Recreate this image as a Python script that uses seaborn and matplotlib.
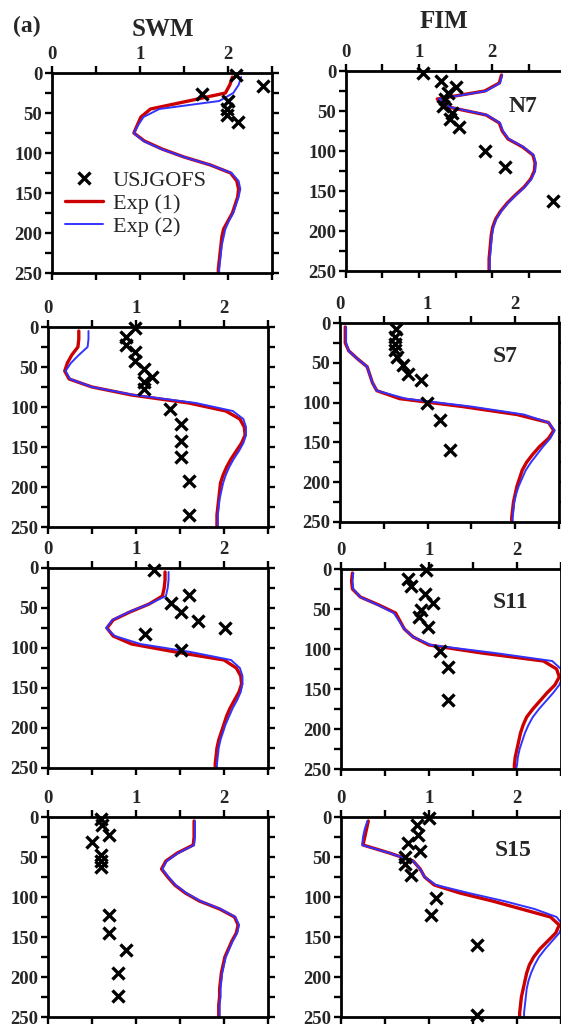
import numpy as np
import pandas as pd
import matplotlib
matplotlib.use("Agg")
import matplotlib.pyplot as plt
import seaborn as sns
from matplotlib.lines import Line2D

# ---------------- data ----------------
depth = [5, 15, 25, 35, 45, 55, 65, 75, 85, 95, 105, 115, 125, 135, 145,
         155, 165, 175, 185, 195, 205, 215, 225, 235, 245, 250]

# SWM / N7
swm_n7_exp1 = [2.05, 2.02, 1.97, 1.55, 1.12, 1.01, 0.97, 0.93, 1.05, 1.25, 1.50, 1.80, 2.03,
               2.10, 2.12, 2.11, 2.08, 2.05, 2.00, 1.95, 1.93, 1.92, 1.91, 1.90, 1.89, 1.89]
swm_n7_exp2 = [2.15, 2.12, 2.06, 1.90, 1.22, 1.04, 0.98, 0.93, 1.04, 1.24, 1.50, 1.80, 2.04,
               2.12, 2.14, 2.12, 2.09, 2.06, 2.01, 1.97, 1.95, 1.93, 1.92, 1.91, 1.90, 1.90]
swm_n7_obs_x = [2.09, 2.40, 1.70, 2.00, 1.99, 1.99, 2.11]
swm_n7_obs_z = [3, 16, 26, 35, 45, 53, 61]

# FIM / N7
fim_n7_exp1 = [2.13, 2.10, 1.90, 1.25, 1.40, 1.92, 2.10, 2.14, 2.22, 2.42, 2.56, 2.59, 2.58,
               2.53, 2.44, 2.32, 2.21, 2.12, 2.05, 2.01, 1.99, 1.98, 1.97, 1.96, 1.96, 1.96]
fim_n7_exp2 = [2.14, 2.11, 1.92, 1.27, 1.42, 1.93, 2.11, 2.15, 2.23, 2.43, 2.57, 2.60, 2.59,
               2.54, 2.45, 2.33, 2.22, 2.13, 2.06, 2.02, 2.00, 1.99, 1.98, 1.97, 1.97, 1.97]
fim_n7_obs_x = [1.06, 1.30, 1.50, 1.40, 1.35, 1.33, 1.45, 1.43, 1.55, 1.90, 2.18, 2.83]
fim_n7_obs_z = [2, 12, 20, 28, 35, 44, 52, 60, 70, 100, 120, 162]

# SWM / S7
swm_s7_exp1 = [0.35, 0.35, 0.34, 0.27, 0.22, 0.19, 0.24, 0.50, 0.95, 1.60, 2.02, 2.18, 2.23,
               2.24, 2.20, 2.14, 2.08, 2.03, 1.99, 1.96, 1.95, 1.94, 1.93, 1.92, 1.92, 1.92]
swm_s7_exp2 = [0.46, 0.46, 0.45, 0.35, 0.26, 0.20, 0.25, 0.50, 0.98, 1.68, 2.10, 2.22, 2.25,
               2.25, 2.22, 2.17, 2.11, 2.06, 2.02, 1.99, 1.97, 1.95, 1.94, 1.93, 1.93, 1.93]
swm_s7_obs_x = [0.99, 0.89, 0.89, 0.99, 0.99, 1.09, 1.18, 1.09, 1.09, 1.39, 1.51, 1.51, 1.51, 1.60, 1.60]
swm_s7_obs_z = [1, 12, 23, 31, 42, 52, 63, 69, 77, 102, 121, 142, 162, 192, 235]

# FIM / S7
fim_s7_exp1 = [0.06, 0.06, 0.06, 0.10, 0.20, 0.31, 0.34, 0.37, 0.42, 0.68, 1.40, 2.02, 2.38,
               2.44, 2.38, 2.28, 2.20, 2.13, 2.08, 2.05, 2.02, 2.00, 1.98, 1.97, 1.96, 1.96]
fim_s7_exp2 = [0.07, 0.07, 0.07, 0.10, 0.20, 0.31, 0.34, 0.37, 0.42, 0.75, 1.50, 2.10, 2.38,
               2.45, 2.40, 2.32, 2.25, 2.18, 2.12, 2.08, 2.04, 2.01, 1.99, 1.98, 1.97, 1.97]
fim_s7_obs_x = [0.64, 0.63, 0.63, 0.63, 0.65, 0.72, 0.78, 0.92, 0.99, 1.14, 1.26]
fim_s7_obs_z = [8, 18, 26, 34, 43, 53, 64, 72, 101, 122, 160]

# SWM / S11
swm_s11_exp1 = [1.33, 1.33, 1.32, 1.30, 1.15, 0.93, 0.74, 0.67, 0.74, 0.95, 1.45, 2.00, 2.14,
                2.19, 2.20, 2.17, 2.12, 2.07, 2.03, 2.00, 1.97, 1.94, 1.92, 1.91, 1.90, 1.90]
swm_s11_exp2 = [1.37, 1.37, 1.36, 1.34, 1.15, 0.92, 0.73, 0.66, 0.76, 1.05, 1.62, 2.08, 2.18,
                2.21, 2.21, 2.19, 2.15, 2.10, 2.06, 2.02, 1.99, 1.96, 1.94, 1.93, 1.92, 1.92]
swm_s11_obs_x = [1.20, 1.60, 1.40, 1.51, 1.71, 2.01, 1.10, 1.51]
swm_s11_obs_z = [3, 34, 44, 55, 66, 75, 83, 103]

# FIM / S11
fim_s11_exp1 = [0.13, 0.12, 0.13, 0.22, 0.43, 0.62, 0.67, 0.72, 0.82, 1.00, 1.60, 2.30, 2.45,
                2.48, 2.43, 2.34, 2.26, 2.18, 2.11, 2.07, 2.04, 2.02, 2.00, 1.98, 1.97, 1.97]
fim_s11_exp2 = [0.14, 0.13, 0.14, 0.22, 0.42, 0.60, 0.66, 0.72, 0.82, 1.02, 1.75, 2.40, 2.50,
                2.52, 2.48, 2.41, 2.33, 2.25, 2.18, 2.13, 2.09, 2.06, 2.03, 2.01, 2.00, 1.99]
fim_s11_obs_x = [0.97, 0.76, 0.79, 0.96, 1.05, 0.91, 0.89, 0.99, 1.12, 1.22, 1.22]
fim_s11_obs_z = [1, 12, 21, 31, 42, 51, 60, 72, 103, 122, 164]

# SWM / S15
swm_s15_exp1 = [1.66, 1.66, 1.66, 1.65, 1.47, 1.34, 1.29, 1.36, 1.44, 1.56, 1.72, 1.95, 2.12,
                2.16, 2.14, 2.09, 2.05, 2.01, 1.99, 1.97, 1.96, 1.95, 1.95, 1.94, 1.94, 1.94]
swm_s15_exp2 = [1.67, 1.67, 1.67, 1.66, 1.48, 1.35, 1.30, 1.37, 1.45, 1.57, 1.73, 1.96, 2.13,
                2.17, 2.15, 2.10, 2.06, 2.02, 2.00, 1.98, 1.97, 1.96, 1.96, 1.95, 1.95, 1.95]
swm_s15_obs_x = [0.60, 0.61, 0.69, 0.50, 0.60, 0.60, 0.60, 0.69, 0.69, 0.89, 0.80, 0.79]
swm_s15_obs_z = [2, 10, 22, 31, 47, 55, 62, 122, 145, 166, 195, 224]

# FIM / S15
fim_s15_exp1 = [0.31, 0.29, 0.27, 0.25, 0.55, 0.82, 0.90, 0.95, 1.06, 1.35, 1.72, 2.05, 2.38,
                2.48, 2.44, 2.35, 2.26, 2.19, 2.14, 2.11, 2.09, 2.07, 2.05, 2.04, 2.03, 2.03]
fim_s15_exp2 = [0.30, 0.27, 0.25, 0.24, 0.55, 0.82, 0.90, 0.95, 1.08, 1.45, 1.85, 2.20, 2.45,
                2.52, 2.48, 2.40, 2.32, 2.25, 2.20, 2.16, 2.13, 2.11, 2.10, 2.09, 2.08, 2.08]
fim_s15_obs_x = [1.00, 0.86, 0.88, 0.76, 0.90, 0.73, 0.73, 0.80, 1.08, 1.02, 1.55, 1.55]
fim_s15_obs_z = [1, 10, 22, 32, 43, 50, 59, 72, 101, 123, 160, 248]

stations = ["N7", "S7", "S11", "S15"]
tick_x = [0, 0.5, 1, 1.5, 2, 2.5, 3]
tick_x_labels = ["0", "", "1", "", "2", "", "3"]
tick_y = [0, 25, 50, 75, 100, 125, 150, 175, 200, 225, 250]
tick_y_labels = ["0", "", "50", "", "100", "", "150", "", "200", "", "250"]

panels = [
    (swm_n7_exp1, swm_n7_exp2, swm_n7_obs_x, swm_n7_obs_z),
    (fim_n7_exp1, fim_n7_exp2, fim_n7_obs_x, fim_n7_obs_z),
    (swm_s7_exp1, swm_s7_exp2, swm_s7_obs_x, swm_s7_obs_z),
    (fim_s7_exp1, fim_s7_exp2, fim_s7_obs_x, fim_s7_obs_z),
    (swm_s11_exp1, swm_s11_exp2, swm_s11_obs_x, swm_s11_obs_z),
    (fim_s11_exp1, fim_s11_exp2, fim_s11_obs_x, fim_s11_obs_z),
    (swm_s15_exp1, swm_s15_exp2, swm_s15_obs_x, swm_s15_obs_z),
    (fim_s15_exp1, fim_s15_exp2, fim_s15_obs_x, fim_s15_obs_z),
]

# ---------------- layout (pixel boxes: left, top, right, bottom) ----------------
W, H = 561, 1024
boxes = [
    (52, 73, 272, 273), (346, 71, 565, 271),
    (48, 327, 268, 527), (340, 323, 559, 522),
    (48, 568, 268, 768), (341, 569, 561, 769),
    (48, 817, 268, 1017), (341, 817, 561, 1017),
]
xmax = [2.5, 3.0, 2.5, 2.5, 2.5, 2.5, 2.5, 2.5]

sns.set_theme(style="white")
plt.rcParams["font.family"] = ["Liberation Serif", "DejaVu Serif"]

RED = "#cc0000"
BLUE = "#3333ff"

fig = plt.figure(figsize=(W / 100, H / 100), dpi=100)

for i, (e1, e2, ox, oz) in enumerate(panels):
    l, t, r, b = boxes[i]
    ax = fig.add_axes([l / W, 1 - b / H, (r - l) / W, (b - t) / H])
    df = pd.DataFrame({
        "depth": depth * 2,
        "value": e1 + e2,
        "exp": ["Exp (1)"] * len(depth) + ["Exp (2)"] * len(depth),
    })
    sns.lineplot(data=df[df["exp"] == "Exp (1)"], x="value", y="depth", sort=False,
                 estimator=None, color=RED, linewidth=2.4, ax=ax, legend=False)
    sns.lineplot(data=df[df["exp"] == "Exp (2)"], x="value", y="depth", sort=False,
                 estimator=None, color=BLUE, linewidth=1.4, ax=ax, legend=False)
    sns.scatterplot(x=ox, y=oz, marker="x", s=75, color="black", linewidth=2.4,
                    ax=ax, legend=False, clip_on=False, zorder=5)
    ax.set_xlim(0, xmax[i])
    ax.set_ylim(250, 0)
    ax.set_xlabel("")
    ax.set_ylabel("")
    ax.set_xticks(tick_x)
    ax.set_xticklabels(tick_x_labels)
    ax.set_xlim(0, xmax[i])
    ax.set_yticks(tick_y)
    ax.set_yticklabels(tick_y_labels)
    ax.xaxis.tick_top()
    ax.tick_params(axis="both", which="major", direction="out", length=5, width=1.7,
                   color="black", labelsize=13.5, pad=2,
                   top=True, bottom=True, left=True, right=True,
                   labeltop=True, labelbottom=False, labelleft=True, labelright=False)
    for lab in ax.get_xticklabels() + ax.get_yticklabels():
        lab.set_fontweight("bold")
    for sp in ax.spines.values():
        sp.set_visible(True)
        sp.set_color("black")
        sp.set_linewidth(2.0)
    ax.set_facecolor("white")
    ax.grid(False)

    if i % 2 == 1:
        st = stations[i // 2]
        pos = {"N7": (523, 106), "S7": (505, 357), "S11": (510, 602), "S15": (513, 850)}[st]
        fig.text(pos[0] / W, 1 - pos[1] / H, st, fontsize=17, fontweight="bold",
                 ha="center", va="center")

    if i == 0:
        handles = [
            Line2D([], [], marker="x", linestyle="none", color="black", markersize=9,
                   markeredgewidth=2.4),
            Line2D([], [], color=RED, linewidth=2.4),
            Line2D([], [], color=BLUE, linewidth=1.4),
        ]
        ax.legend(handles=handles, labels=["USJGOFS", "Exp (1)", "Exp (2)"],
                  loc="upper left", bbox_to_anchor=(0.06, 0.515), frameon=False,
                  fontsize=16, handlelength=1.7, handletextpad=0.45,
                  labelspacing=0.12, borderpad=0, borderaxespad=0)

fig.text(27 / W, 1 - 26 / H, "(a)", fontsize=17, fontweight="bold", ha="center", va="center")
fig.text(163 / W, 1 - 29 / H, "SWM", fontsize=18, fontweight="bold", ha="center", va="center")
fig.text(444 / W, 1 - 22 / H, "FIM", fontsize=18, fontweight="bold", ha="center", va="center")

fig.savefig("out.png", dpi=100, facecolor="white")
